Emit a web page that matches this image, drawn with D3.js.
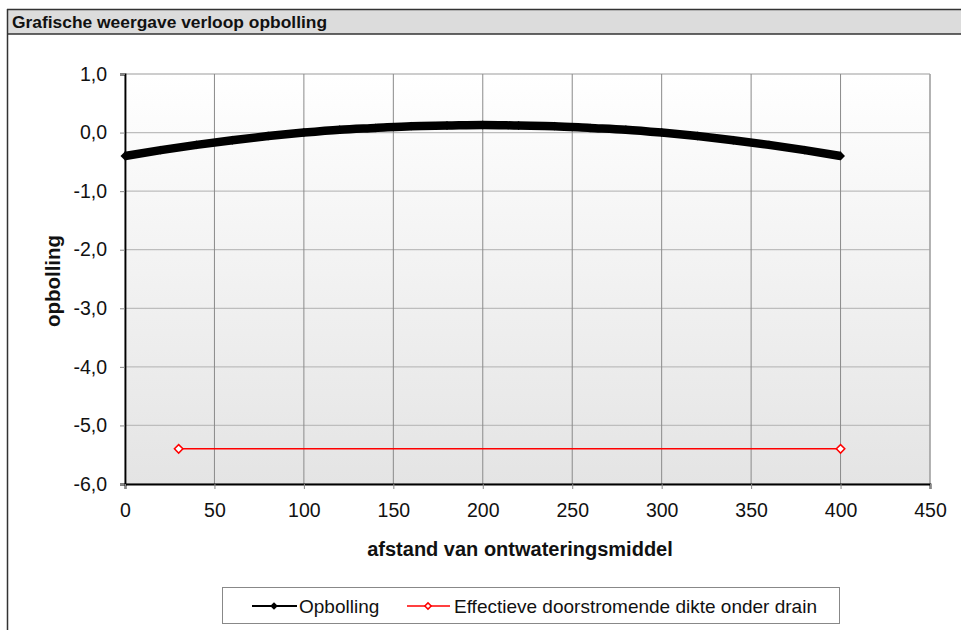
<!DOCTYPE html>
<html><head><meta charset="utf-8">
<script src="https://cdn.jsdelivr.net/npm/d3@7/dist/d3.min.js"></script>
<style>body{margin:0;background:#fff;font-family:"Liberation Sans",Arial,sans-serif}</style>
</head><body><svg id="c" width="961" height="630"></svg>
<script>
const title = "Grafische weergave verloop opbolling";
const xTitle = "afstand van ontwateringsmiddel";
const yTitle = "opbolling";
const xTicks = [0,50,100,150,200,250,300,350,400,450];
const yTicks = [1,0,-1,-2,-3,-4,-5,-6];
const opbollingX = [0,20,40,60,80,100,120,140,160,180,200,220,240,260,280,300,320,340,360,380,400];
const opbollingY = [-0.40,-0.30,-0.21,-0.13,-0.06,0.00,0.05,0.08,0.11,0.12,0.13,0.12,0.11,0.08,0.05,0.00,-0.06,-0.13,-0.21,-0.30,-0.40];
const drainX = [30,400];
const drainY = [-5.4,-5.4];
const legendLabels = ["Opbolling","Effectieve doorstromende dikte onder drain"];

const svg = d3.select("#c");
const L=125, R=930, T=74, B=484;
const x = d3.scaleLinear().domain([0,450]).range([L,R]);
const y = d3.scaleLinear().domain([-6,1]).range([B,T]);

// frame + title bar
svg.append("rect").attr("x",7).attr("y",9).attr("width",960).attr("height",25).attr("fill","#dcdcdc");
svg.append("line").attr("x1",7).attr("x2",961).attr("y1",9.5).attr("y2",9.5).attr("stroke","#333").attr("stroke-width",1.5);
svg.append("line").attr("x1",7).attr("x2",961).attr("y1",34).attr("y2",34).attr("stroke","#333").attr("stroke-width",1.5);
svg.append("line").attr("x1",7.5).attr("x2",7.5).attr("y1",9).attr("y2",630).attr("stroke","#333").attr("stroke-width",1.5);
svg.append("text").attr("x",12).attr("y",28).attr("font-size",17.4).attr("font-weight","bold").attr("fill","#111").text(title);

// plot background gradient
const defs = svg.append("defs");
const g = defs.append("linearGradient").attr("id","bg").attr("x1",0).attr("x2",0).attr("y1",0).attr("y2",1);
g.append("stop").attr("offset","0%").attr("stop-color","#ffffff");
g.append("stop").attr("offset","100%").attr("stop-color","#e4e4e4");
svg.append("rect").attr("x",L).attr("y",T).attr("width",R-L).attr("height",B-T).attr("fill","url(#bg)");

// gridlines
svg.append("g").selectAll("line").data(yTicks).join("line")
  .attr("x1",L).attr("x2",R).attr("y1",d=>y(d)).attr("y2",d=>y(d))
  .attr("stroke","#bdbdbd").attr("stroke-width",1.3);
svg.append("g").selectAll("line").data(xTicks).join("line")
  .attr("x1",d=>x(d)).attr("x2",d=>x(d)).attr("y1",T).attr("y2",B)
  .attr("stroke","#8a8a8a").attr("stroke-width",1);
svg.append("line").attr("x1",R).attr("x2",R).attr("y1",T).attr("y2",B).attr("stroke","#aaa").attr("stroke-width",1.3);

// axes
const fmt = d=> d3.format(".1f")(d).replace(".",",").replace("\u2212","-");
const ya = svg.append("g").attr("transform",`translate(${L},0)`)
  .call(d3.axisLeft(y).tickValues(yTicks).tickFormat(fmt).tickSize(5).tickPadding(13));
const xa = svg.append("g").attr("transform",`translate(0,${B})`)
  .call(d3.axisBottom(x).tickValues(xTicks).tickFormat(d3.format("d")).tickSize(5).tickPadding(14));
[ya,xa].forEach(a=>{
  a.select(".domain").attr("stroke","#000").attr("stroke-width",1.8);
  a.selectAll(".tick line").attr("stroke","#888");
  a.selectAll("text").attr("font-size",19.5).attr("font-family","Liberation Sans, Arial").attr("fill","#111");
});
svg.append("text").attr("x",520).attr("y",556).attr("text-anchor","middle").attr("font-size",20).attr("font-weight","bold").attr("fill","#111").text(xTitle);
svg.append("text").attr("transform","translate(60,281) rotate(-90)").attr("text-anchor","middle").attr("font-size",20.5).attr("font-weight","bold").attr("fill","#111").text(yTitle);

// series
const ob = opbollingX.map((d,i)=>[d,opbollingY[i]]);
const line = d3.line().x(d=>x(d[0])).y(d=>y(d[1])).curve(d3.curveMonotoneX);
svg.append("path").attr("d",line(ob)).attr("fill","none").attr("stroke","#000").attr("stroke-width",8.5);
svg.append("g").selectAll("path").data(ob).join("path")
  .attr("transform",d=>`translate(${x(d[0])},${y(d[1])}) rotate(45)`)
  .attr("d",d3.symbol(d3.symbolSquare,40)).attr("fill","#000");

const dr = drainX.map((d,i)=>[d,drainY[i]]);
svg.append("path").attr("d",d3.line().x(d=>x(d[0])).y(d=>y(d[1]))(dr)).attr("fill","none").attr("stroke","#ff0000").attr("stroke-width",1.5);
svg.append("g").selectAll("path").data(dr).join("path")
  .attr("transform",d=>`translate(${x(d[0])},${y(d[1])}) rotate(45)`)
  .attr("d",d3.symbol(d3.symbolSquare,36)).attr("fill","#fff").attr("stroke","#ff0000").attr("stroke-width",1.5);

// legend
svg.append("rect").attr("x",222.5).attr("y",587.5).attr("width",617).attr("height",36).attr("fill","#fff").attr("stroke","#888");
const ly = 606;
svg.append("line").attr("x1",252).attr("x2",297).attr("y1",ly).attr("y2",ly).attr("stroke","#000").attr("stroke-width",2);
svg.append("path").attr("transform",`translate(274,${ly}) rotate(45)`).attr("d",d3.symbol(d3.symbolSquare,30)).attr("fill","#000");
svg.append("text").attr("x",299).attr("y",ly+7).attr("font-size",19).attr("fill","#111").text(legendLabels[0]);
svg.append("line").attr("x1",407).attr("x2",450).attr("y1",ly).attr("y2",ly).attr("stroke","#ff0000").attr("stroke-width",1.5);
svg.append("path").attr("transform",`translate(428,${ly}) rotate(45)`).attr("d",d3.symbol(d3.symbolSquare,20)).attr("fill","#fff").attr("stroke","#ff0000").attr("stroke-width",1.5);
svg.append("text").attr("x",454).attr("y",ly+7).attr("font-size",19).attr("fill","#111").text(legendLabels[1]);
</script></body></html>
